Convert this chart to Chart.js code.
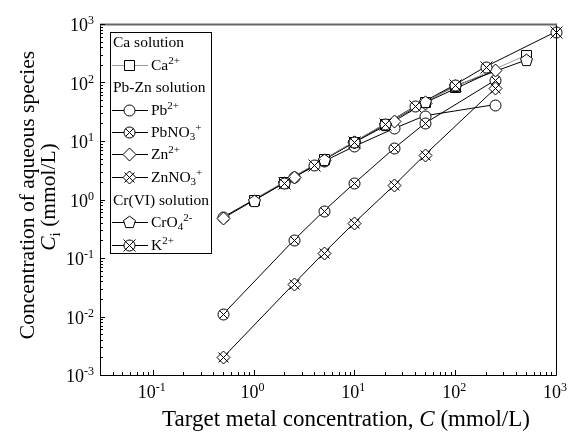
<!DOCTYPE html>
<html>
<head>
<meta charset="utf-8">
<script src="https://cdn.jsdelivr.net/npm/chart.js@4.4.0/dist/chart.umd.min.js"></script>
<style>
  html, body { margin: 0; padding: 0; background: #fff; }
</style>
</head>
<body>
<canvas id="chart" width="568" height="432"></canvas>
<script>
// ====================== Data ======================
// Ca solution
const caX = [1, 2, 5, 10, 20, 50, 100, 500];
const caY = [1, 2, 4.9, 9.8, 19.5, 47, 85, 290];
// Pb-Zn solution
const pbznX = [0.5, 2.5, 5, 10, 25, 50, 250];
const pbY = [0.5, 2.4, 4.5, 8.1, 16.5, 27, 42];
const pbno3Y = [0.011, 0.2, 0.64, 1.9, 7.6, 20, 110];
const znY = [0.48, 2.4, 4.8, 9.5, 22, 45, 163];
const znno3Y = [0.002, 0.036, 0.123, 0.4, 1.77, 5.8, 79];
// Cr(VI) solution
const crX = [1, 2, 5, 10, 20, 50, 100, 500];
const cro4Y = [0.95, 1.9, 4.8, 9.5, 19, 46, 88, 240];
const kX = [2, 4, 10, 20, 40, 100, 200, 1000];
const kY = [1.9, 3.9, 9.7, 19.5, 39, 92, 186, 740];

const xTicks = [0.1, 1, 10, 100, 1000];
const yTicks = [0.001, 0.01, 0.1, 1, 10, 100, 1000];

const FONT = '"Liberation Serif", "Times New Roman", serif';

// ====================== Markers ======================
function drawMarker(g, kind, x, y) {
  const cx = Math.round(x) + 0.5, cy = Math.round(y) + 0.5;
  g.save();
  g.translate(cx, cy);
  g.lineWidth = 1;
  g.strokeStyle = '#000';
  g.fillStyle = '#fff';
  const X = (d) => {
    g.beginPath();
    g.moveTo(-d, -d); g.lineTo(d, d);
    g.moveTo(d, -d); g.lineTo(-d, d);
    g.stroke();
  };
  if (kind === 'square') {
    g.beginPath(); g.rect(-5, -5, 10, 10); g.fill(); g.stroke();
  } else if (kind === 'circle' || kind === 'circleX' || kind === 'circleBigX') {
    g.beginPath(); g.arc(0, 0, 5.5, 0, Math.PI * 2); g.fill(); g.stroke();
    if (kind === 'circleX') X(4);
    if (kind === 'circleBigX') X(6);
  } else if (kind === 'diamond' || kind === 'diamondX') {
    const r = 6.5;
    g.beginPath();
    g.moveTo(0, -r); g.lineTo(r, 0); g.lineTo(0, r); g.lineTo(-r, 0); g.closePath();
    g.fill(); g.stroke();
    if (kind === 'diamondX') X(5);
  } else if (kind === 'pentagon') {
    const r = 6.3;
    g.beginPath();
    for (let i = 0; i < 5; i++) {
      const a = -Math.PI / 2 + i * 2 * Math.PI / 5;
      const px = r * Math.cos(a), py = r * Math.sin(a);
      if (i === 0) g.moveTo(px, py); else g.lineTo(px, py);
    }
    g.closePath(); g.fill(); g.stroke();
  }
  g.restore();
}

function pts(xs, ys) {
  return xs.map((v, i) => ({ x: v, y: ys[i] }));
}

function series(xs, ys, marker, color) {
  return {
    data: pts(xs, ys),
    marker: marker,
    borderColor: color || '#000',
    borderWidth: 1,
    pointRadius: 0,
    pointHoverRadius: 0,
    fill: false,
    tension: 0,
    clip: false
  };
}

// ====================== Rich text ======================
function fontFor(k, size) {
  if (k === 'sup' || k === 'sub') return Math.round(size * 0.68) + 'px ' + FONT;
  if (k === 'i') return 'italic ' + size + 'px ' + FONT;
  return size + 'px ' + FONT;
}
function richWidth(ctx, segs, size) {
  let w = 0;
  segs.forEach(([t, k]) => {
    ctx.font = fontFor(k, size);
    w += ctx.measureText(t).width;
  });
  return w;
}
function drawRich(ctx, segs, x, y, align, size) {
  const w = richWidth(ctx, segs, size);
  let cx = x;
  if (align === 'center') cx = x - w / 2;
  if (align === 'right') cx = x - w;
  ctx.textAlign = 'left';
  ctx.textBaseline = 'alphabetic';
  ctx.fillStyle = '#000';
  segs.forEach(([t, k]) => {
    ctx.font = fontFor(k, size);
    let dy = 0;
    if (k === 'sup') dy = -size * 0.38;
    if (k === 'sub') dy = size * 0.22;
    ctx.fillText(t, cx, y + dy);
    cx += ctx.measureText(t).width;
  });
}

// ====================== Axes + legend plugin ======================
const legendRows = [
  { head: 'Ca solution' },
  { label: [['Ca', ''], ['2+', 'sup']], marker: 'square', color: '#999' },
  { head: 'Pb-Zn solution' },
  { label: [['Pb', ''], ['2+', 'sup']], marker: 'circle' },
  { label: [['PbNO', ''], ['3', 'sub'], ['+', 'sup']], marker: 'circleX' },
  { label: [['Zn', ''], ['2+', 'sup']], marker: 'diamond' },
  { label: [['ZnNO', ''], ['3', 'sub'], ['+', 'sup']], marker: 'diamondX' },
  { head: 'Cr(VI) solution' },
  { label: [['CrO', ''], ['4', 'sub'], ['2-', 'sup']], marker: 'pentagon' },
  { label: [['K', ''], ['2+', 'sup']], marker: 'circleBigX' }
];

const framePlugin = {
  id: 'frame',
  afterDatasetsDraw(chart) {
    const ctx = chart.ctx;
    chart.data.datasets.forEach((ds, i) => {
      chart.getDatasetMeta(i).data.forEach(p => drawMarker(ctx, ds.marker, p.x, p.y));
    });
  },
  afterDraw(chart) {
    const ctx = chart.ctx;
    const a = chart.chartArea;
    const xs = chart.scales.x, ys = chart.scales.y;
    ctx.save();

    // frame
    ctx.lineWidth = 1;
    ctx.strokeStyle = '#000';
    ctx.beginPath();
    ctx.moveTo(a.left + 0.5, a.top); ctx.lineTo(a.left + 0.5, a.bottom + 0.5);
    ctx.lineTo(a.right + 0.5, a.bottom + 0.5); ctx.lineTo(a.right + 0.5, a.top);
    ctx.stroke();
    ctx.strokeStyle = '#666';
    ctx.lineWidth = 2;
    ctx.beginPath();
    ctx.moveTo(a.left, a.top + 0.5); ctx.lineTo(a.right + 1, a.top + 0.5);
    ctx.stroke();

    // ticks (inward)
    ctx.strokeStyle = '#000';
    ctx.lineWidth = 1;
    ctx.beginPath();
    for (let e = -2; e <= 3; e++) {
      for (let m = 1; m <= 9; m++) {
        const v = m * Math.pow(10, e);
        if (v < xs.min || v > xs.max) continue;
        const px = Math.round(xs.getPixelForValue(v)) + 0.5;
        const len = m === 1 ? 5 : 3;
        ctx.moveTo(px, a.bottom); ctx.lineTo(px, a.bottom - len);
      }
    }
    for (let e = -3; e <= 3; e++) {
      for (let m = 1; m <= 9; m++) {
        const v = m * Math.pow(10, e);
        if (v < ys.min || v > ys.max) continue;
        const py = Math.round(ys.getPixelForValue(v)) + 0.5;
        const len = m === 1 ? 5 : 3;
        ctx.moveTo(a.left, py); ctx.lineTo(a.left + len, py);
      }
    }
    ctx.stroke();

    // tick labels
    xTicks.forEach(v => {
      const e = Math.round(Math.log10(v));
      drawRich(ctx, [['10', ''], [String(e), 'sup']], xs.getPixelForValue(v) - 1, a.bottom + 23, 'center', 18);
    });
    yTicks.forEach(v => {
      const e = Math.round(Math.log10(v));
      drawRich(ctx, [['10', ''], [String(e), 'sup']], a.left - 6, ys.getPixelForValue(v) + 7, 'right', 18);
    });

    // axis titles
    drawRich(ctx, [['Target metal concentration, ', ''], ['C', 'i'], [' (mmol/L)', '']], 346, 426, 'center', 23);
    ctx.save();
    ctx.translate(34, 195);
    ctx.rotate(-Math.PI / 2);
    drawRich(ctx, [['Concentration of aqueous species', '']], 0, 0, 'center', 21.5);
    ctx.restore();
    ctx.save();
    ctx.translate(55, 197);
    ctx.rotate(-Math.PI / 2);
    drawRich(ctx, [['C', 'i'], ['i', 'sub'], [' (mmol/L)', '']], 0, 0, 'center', 21.5);
    ctx.restore();

    // legend
    const lx = 110, ly = 32, lw = 101, lh = 221;
    ctx.fillStyle = '#fff';
    ctx.fillRect(lx, ly, lw, lh);
    ctx.strokeStyle = '#000';
    ctx.lineWidth = 1;
    ctx.strokeRect(lx + 0.5, ly + 0.5, lw, lh);
    const rowY = [42, 65, 87, 110, 132, 154, 177, 200, 222, 245];
    legendRows.forEach((r, i) => {
      const cy = rowY[i];
      if (r.head) {
        drawRich(ctx, [[r.head, '']], 113, cy + 5, 'left', 15.5);
        return;
      }
      ctx.strokeStyle = r.color || '#000';
      ctx.lineWidth = 1;
      ctx.beginPath();
      ctx.moveTo(112, cy + 0.5); ctx.lineTo(148, cy + 0.5);
      ctx.stroke();
      drawMarker(ctx, r.marker, 129, cy);
      drawRich(ctx, r.label, 151, cy + 5, 'left', 15.5);
    });

    ctx.restore();
  }
};

// ====================== Chart ======================
const ctx = document.getElementById('chart').getContext('2d');
new Chart(ctx, {
  type: 'line',
  data: {
    datasets: [
      series(caX, caY, 'square', '#999'),
      series(pbznX, pbY, 'circle'),
      series(pbznX, pbno3Y, 'circleX'),
      series(pbznX, znY, 'diamond'),
      series(pbznX, znno3Y, 'diamondX'),
      series(crX, cro4Y, 'pentagon'),
      series(kX, kY, 'circleBigX')
    ]
  },
  options: {
    responsive: false,
    animation: false,
    devicePixelRatio: 1,
    layout: { padding: { left: 100, right: 12, top: 24, bottom: 57 } },
    plugins: { legend: { display: false }, tooltip: { enabled: false } },
    scales: {
      x: { type: 'logarithmic', min: 0.03, max: 1000, display: false },
      y: { type: 'logarithmic', min: 0.001, max: 1000, display: false }
    }
  },
  plugins: [framePlugin]
});
</script>
</body>
</html>
